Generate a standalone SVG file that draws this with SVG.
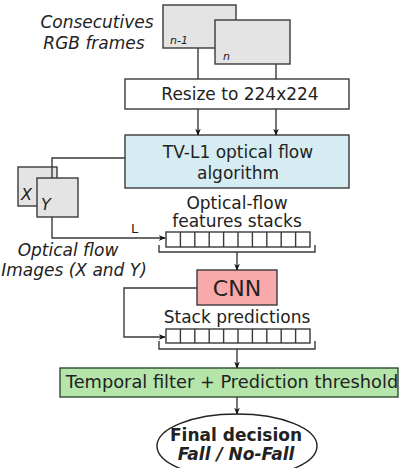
<svg xmlns="http://www.w3.org/2000/svg" width="408" height="468" viewBox="0 0 408 468">
<defs>
<style>
text{font-family:"DejaVu Sans","Liberation Sans",sans-serif;fill:#222;}
.t{font-size:17px;text-anchor:middle;}
.it{font-style:italic;}
.box{stroke:#3a3a3a;stroke-width:1.4;}
.ln{fill:none;stroke:#3a3a3a;stroke-width:1.4;}
.arr{marker-end:url(#ah);}
</style>
<marker id="ah" viewBox="0 0 10 10" refX="9" refY="5" markerWidth="7" markerHeight="7" orient="auto" markerUnits="userSpaceOnUse">
<path d="M0,1 L10,5 L0,9 L3,5 Z" fill="#111"/>
</marker>
</defs>
<rect width="408" height="468" fill="#fff"/>

<g id="frames">
<rect class="box" x="163" y="5" width="73" height="43" fill="#e4e4e4"/>
<rect class="box" x="215" y="20" width="75" height="44" fill="#e4e4e4"/>
<text x="170" y="44" font-size="11" class="it">n-1</text>
<text x="223" y="60" font-size="11" class="it">n</text>
<text class="t it" x="97" y="28">Consecutives</text>
<text class="t it" x="94" y="49">RGB frames</text>
</g>

<g id="resize">
<rect class="box" x="125" y="79" width="224" height="30" fill="#fff"/>
<text class="t" x="240" y="100">Resize to 224x224</text>
</g>

<g id="tvl1">
<rect class="box" x="125" y="135" width="224" height="53" fill="#d6ecf3"/>
<text class="t" x="238" y="158">TV-L1 optical flow</text>
<text class="t" x="238" y="179">algorithm</text>
</g>

<g id="flowimages">
<rect class="box" x="18" y="167" width="39" height="39" fill="#e4e4e4"/>
<rect class="box" x="37" y="178" width="41" height="39" fill="#e4e4e4"/>
<text x="21" y="200" font-size="16" class="it">X</text>
<text x="41" y="210" font-size="16" class="it">Y</text>
<text class="t it" x="68" y="256">Optical flow</text>
<text class="t it" x="74" y="276">Images (X and Y)</text>
</g>

<g id="stack1">
<text class="t" x="237" y="209">Optical-flow</text>
<text class="t" x="237" y="227">features stacks</text>
<rect class="box" x="166" y="232" width="144" height="15" fill="#fff"/>
<path class="ln" d="M180.4,232V247M194.8,232V247M209.2,232V247M223.6,232V247M238,232V247M252.4,232V247M266.8,232V247M281.2,232V247M295.6,232V247"/>
<path class="ln" d="M159,245V252H315V245"/>
</g>

<g id="cnn">
<rect class="box" x="197" y="270" width="80" height="35" fill="#f9a9a9"/>
<text x="237" y="296" font-size="22" text-anchor="middle">CNN</text>
</g>

<g id="stack2">
<text class="t" x="237" y="323">Stack predictions</text>
<rect class="box" x="166" y="329" width="144" height="14" fill="#fff"/>
<path class="ln" d="M180.4,329V343M194.8,329V343M209.2,329V343M223.6,329V343M238,329V343M252.4,329V343M266.8,329V343M281.2,329V343M295.6,329V343"/>
<path class="ln" d="M159,341V349H315V341"/>
</g>

<g id="temporal">
<rect x="60" y="368" width="338" height="29" fill="#b5e5aa" stroke="#2f4a2f" stroke-width="1.4"/>
<text class="t" x="232" y="388" style="font-size:17.8px">Temporal filter + Prediction threshold</text>
</g>

<g id="decision">
<ellipse cx="237" cy="446" rx="80" ry="32" fill="#fff" stroke="#222" stroke-width="1.4"/>
<text class="t" x="236" y="441" font-weight="bold">Final decision</text>
<text class="t it" x="236" y="460" font-weight="bold">Fall / No-Fall</text>
</g>

<g id="connectors">
<path class="ln" d="M198,48V79"/>
<path class="ln" d="M276,64V79"/>
<path class="ln arr" d="M198,109V135"/>
<path class="ln arr" d="M276,109V135"/>
<path class="ln" d="M125,158H52V178"/>
<path class="ln arr" d="M52,217V238H165"/>
<text x="131" y="233" font-size="13">L</text>
<path class="ln arr" d="M237,252V270"/>
<path class="ln arr" d="M197,288H124V337H165"/>
<path class="ln arr" d="M237,349V368"/>
<path class="ln arr" d="M237,397V414"/>
</g>
</svg>
